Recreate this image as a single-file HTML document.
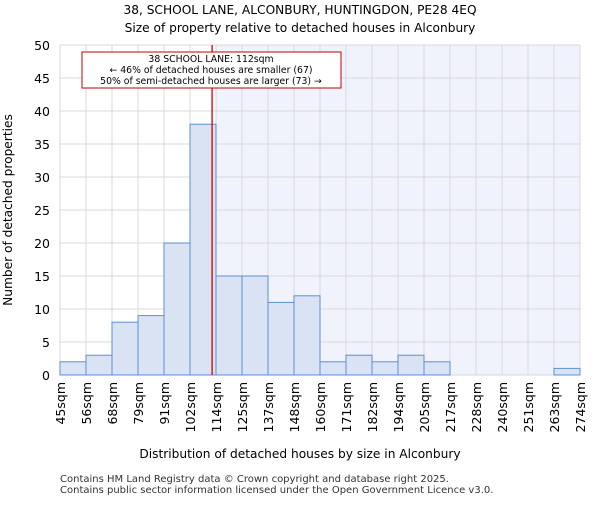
<!DOCTYPE html>
<html><head><meta charset="utf-8"><style>body{margin:0;background:#fff}svg{font-family:"DejaVu Sans","Liberation Sans",sans-serif}</style></head>
<body>
<svg id="c" width="600" height="500">
<text x="300" y="14" text-anchor="middle" font-size="12.2">38, SCHOOL LANE, ALCONBURY, HUNTINGDON, PE28 4EQ</text>
<text x="300" y="32" text-anchor="middle" font-size="12.2">Size of property relative to detached houses in Alconbury</text>
<g id="plot"></g>
<text x="300" y="458" text-anchor="middle" font-size="12.2">Distribution of detached houses by size in Alconbury</text>
<text transform="translate(12,210) rotate(-90)" text-anchor="middle" font-size="12.2">Number of detached properties</text>
<text x="60" y="482" font-size="10" fill="#333">Contains HM Land Registry data © Crown copyright and database right 2025.</text>
<text x="60" y="493" font-size="10" fill="#333">Contains public sector information licensed under the Open Government Licence v3.0.</text>
</svg>
<script>
const categories=["45sqm","56sqm","68sqm","79sqm","91sqm","102sqm","114sqm","125sqm","137sqm","148sqm","160sqm","171sqm","182sqm","194sqm","205sqm","217sqm","228sqm","240sqm","251sqm","263sqm","274sqm"];
const counts=[2,3,8,9,20,38,15,15,11,12,2,3,2,3,2,0,0,0,0,1];
const yTicks=[0,5,10,15,20,25,30,35,40,45,50];
const markerBin=5.85;
const NS="http://www.w3.org/2000/svg";
const g=document.getElementById('plot');
const X0=60,X1=580,Y0=375,Y1=45,YMAX=50;
const xs=i=>X0+i*(X1-X0)/counts.length;
const ys=v=>Y0-v*(Y0-Y1)/YMAX;
function el(t,a){const e=document.createElementNS(NS,t);for(const k in a)e.setAttribute(k,a[k]);g.appendChild(e);return e;}
let e;
e=el('rect',{x:xs(Math.ceil(markerBin)),y:Y1,width:X1-xs(Math.ceil(markerBin)),height:Y0-Y1,fill:'#f1f3fc'});


yTicks.forEach(t=>{
 e=el('line',{x1:X0,x2:X1,y1:ys(t),y2:ys(t),stroke:'#d8d8d8'});
 
 
 e=el('text',{x:X0-10,y:ys(t)+5,'text-anchor':'end','font-size':12.5});
 e.textContent=t;
 
 
});
categories.forEach((c,i)=>{
 e=el('line',{x1:xs(i),x2:xs(i),y1:Y1,y2:Y0,stroke:'#d8d8d8'});
 
 
 e=el('text',{transform:`translate(${xs(i)+5},${Y0+7}) rotate(-90)`,'text-anchor':'end','font-size':12.5});
 e.textContent=c;
 
 
});
counts.forEach((v,i)=>{
 if(v<=0)return;
 e=el('rect',{x:xs(i),y:ys(v),width:xs(i+1)-xs(i),height:Y0-ys(v),fill:'#dae3f3',stroke:'#5b8fd6','stroke-width':1});
 
 
});
const mx=xs(markerBin);
e=el('line',{x1:mx,x2:mx,y1:Y1,y2:Y0,stroke:'#d00000','stroke-width':1.3});


e=el('rect',{x:82,y:52,width:259,height:36,fill:'#fff',stroke:'#c00000'});


["38 SCHOOL LANE: 112sqm","← 46% of detached houses are smaller (67)","50% of semi-detached houses are larger (73) →"].forEach((s,i)=>{
 e=el('text',{x:211,y:62+i*11,'text-anchor':'middle','font-size':9.3});
 e.textContent=s;
 
 
});
</script>
</body></html>
